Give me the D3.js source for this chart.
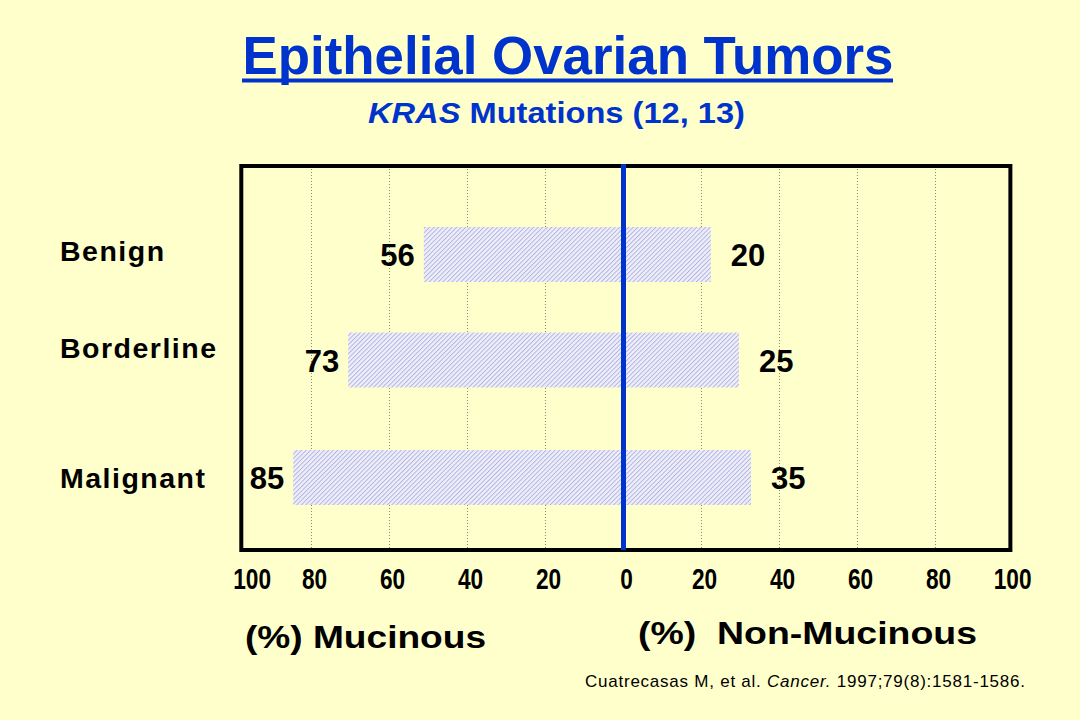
<!DOCTYPE html>
<html>
<head>
<meta charset="utf-8">
<script src="https://cdn.jsdelivr.net/npm/d3@7"></script>
<style>
  html, body { margin: 0; padding: 0; background: #FFFFCC; }
  svg { display: block; }
  text { font-family: "Liberation Sans", Arial, sans-serif; }
</style>
</head>
<body>
<svg id="chart" width="1080" height="720"></svg>
<script>
// ---- data ----
const categories = ["Benign", "Borderline", "Malignant"];
const mucinousBars = [51.2, 70.6, 84.7];        // bar lengths as drawn (left side)
const nonMucinousBars = [22.4, 29.6, 32.7];     // bar lengths as drawn (right side)
const mucinousLabels = ["56", "73", "85"];
const nonMucinousLabels = ["20", "25", "35"];
const tickValues = [-100, -80, -60, -40, -20, 0, 20, 40, 60, 80, 100];
const tickLabels = ["100", "80", "60", "40", "20", "0", "20", "40", "60", "80", "100"];
const gridValues = [-80, -60, -40, -20, 20, 40, 60, 80];

const title = "Epithelial Ovarian Tumors";
const subtitleItalic = "KRAS";
const subtitleRest = " Mutations (12, 13)";
const leftAxisTitle = "(%) Mucinous";
const rightAxisTitle = "(%)\u00A0 Non-Mucinous";

// ---- layout ----
const svg = d3.select("#chart");
const blue = "#0033CC";

svg.append("rect").attr("width", 1080).attr("height", 720).attr("fill", "#FFFFCC");

const x = d3.scaleLinear().domain([-100, 100]).range([233.5, 1013.5]);
// rows are not evenly spaced in the original slide
const y = d3.scaleOrdinal().domain(categories).range([254.5, 360, 477.5]);
const yLabel = d3.scaleOrdinal().domain(categories).range([261, 358, 488]);
const barH = 55;
const frameLeft = x(-98), frameRight = x(99.2);
const frameTop = 166, frameBottom = 550;

// pattern
const defs = svg.append("defs");
const pat = defs.append("pattern")
  .attr("id", "hatch").attr("patternUnits", "userSpaceOnUse")
  .attr("width", 3.2).attr("height", 3.2)
  .attr("patternTransform", "rotate(45)");
pat.append("rect").attr("width", 3.2).attr("height", 3.2).attr("fill", "#EEEEF6");
pat.append("line").attr("x1", 0).attr("y1", 0).attr("x2", 0).attr("y2", 3.2)
  .attr("stroke", "#AEB0E6").attr("stroke-width", 1.8);

// title
svg.append("text")
  .attr("x", 568).attr("y", 74)
  .attr("text-anchor", "middle")
  .attr("font-size", 54).attr("font-weight", "bold")
  .attr("fill", blue)
  .attr("textLength", 651).attr("lengthAdjust", "spacingAndGlyphs")
  .text(title);
svg.append("rect").attr("x", 242).attr("y", 78.5).attr("width", 651).attr("height", 4).attr("fill", blue);

// subtitle
const st = svg.append("text")
  .attr("x", 368).attr("y", 123)
  .attr("font-size", 30).attr("font-weight", "bold")
  .attr("fill", blue)
  .attr("textLength", 377).attr("lengthAdjust", "spacingAndGlyphs");
st.append("tspan").attr("font-style", "italic").text(subtitleItalic);
st.append("tspan").text(subtitleRest);

// gridlines
svg.append("g").selectAll("line").data(gridValues).join("line")
  .attr("x1", d => x(d)).attr("x2", d => x(d))
  .attr("y1", frameTop).attr("y2", frameBottom)
  .attr("stroke", "#8a8a7a").attr("stroke-width", 1)
  .attr("stroke-dasharray", "1,2");

// bars
const rows = categories.map((c, i) => ({
  c, m: mucinousBars[i], n: nonMucinousBars[i], ml: mucinousLabels[i], nl: nonMucinousLabels[i]
}));
const barG = svg.append("g");
barG.selectAll("rect.m").data(rows).join("rect")
  .attr("class", "m")
  .attr("x", d => x(-d.m)).attr("width", d => x(0) - x(-d.m))
  .attr("y", d => y(d.c) - barH / 2).attr("height", barH)
  .attr("fill", "url(#hatch)");
barG.selectAll("rect.n").data(rows).join("rect")
  .attr("class", "n")
  .attr("x", x(0)).attr("width", d => x(d.n) - x(0))
  .attr("y", d => y(d.c) - barH / 2).attr("height", barH)
  .attr("fill", "url(#hatch)");

// value labels
svg.append("g").selectAll("text").data(rows).join("text")
  .attr("x", d => x(-d.m) - 9).attr("y", d => y(d.c) + 11.5)
  .attr("text-anchor", "end")
  .attr("font-size", 31).attr("font-weight", "bold").attr("fill", "#000")
  .text(d => d.ml);
svg.append("g").selectAll("text").data(rows).join("text")
  .attr("x", d => x(d.n) + 20).attr("y", d => y(d.c) + 11.5)
  .attr("text-anchor", "start")
  .attr("font-size", 31).attr("font-weight", "bold").attr("fill", "#000")
  .text(d => d.nl);

// frame
svg.append("rect")
  .attr("x", frameLeft).attr("y", frameTop)
  .attr("width", frameRight - frameLeft).attr("height", frameBottom - frameTop)
  .attr("fill", "none").attr("stroke", "#000").attr("stroke-width", 4);

// center line
svg.append("line")
  .attr("x1", x(0)).attr("x2", x(0))
  .attr("y1", frameTop - 2).attr("y2", frameBottom)
  .attr("stroke", blue).attr("stroke-width", 5);

// category labels
svg.append("g").selectAll("text").data(categories).join("text")
  .attr("x", 60).attr("y", d => yLabel(d))
  .attr("font-size", 28.5).attr("font-weight", "bold").attr("fill", "#000")
  .attr("letter-spacing", 1.5)
  .text(d => d);

// tick labels (condensed)
const clampV = v => Math.max(-96, Math.min(99, v));
svg.append("g").selectAll("text").data(tickValues).join("text")
  .attr("x", v => x(clampV(v)) + 3).attr("y", 589)
  .attr("text-anchor", "middle")
  .attr("font-size", 29).attr("font-weight", "bold").attr("fill", "#000")
  .attr("textLength", (v, i) => 12.6 * tickLabels[i].length)
  .attr("lengthAdjust", "spacingAndGlyphs")
  .text((v, i) => tickLabels[i]);

// axis titles
svg.append("text")
  .attr("x", 245).attr("y", 648)
  .attr("font-size", 32).attr("font-weight", "bold").attr("fill", "#000")
  .attr("textLength", 241).attr("lengthAdjust", "spacingAndGlyphs")
  .text(leftAxisTitle);
svg.append("text")
  .attr("x", 638).attr("y", 644)
  .attr("font-size", 32).attr("font-weight", "bold").attr("fill", "#000")
  .attr("textLength", 339).attr("lengthAdjust", "spacingAndGlyphs")
  .text(rightAxisTitle);

// citation
const cit = svg.append("text")
  .attr("x", 585).attr("y", 686.5)
  .attr("font-size", 17).attr("fill", "#000")
  .attr("textLength", 440).attr("lengthAdjust", "spacing");
cit.append("tspan").text("Cuatrecasas M, et al. ");
cit.append("tspan").attr("font-style", "italic").text("Cancer.");
cit.append("tspan").text(" 1997;79(8):1581-1586.");
</script>
</body>
</html>
